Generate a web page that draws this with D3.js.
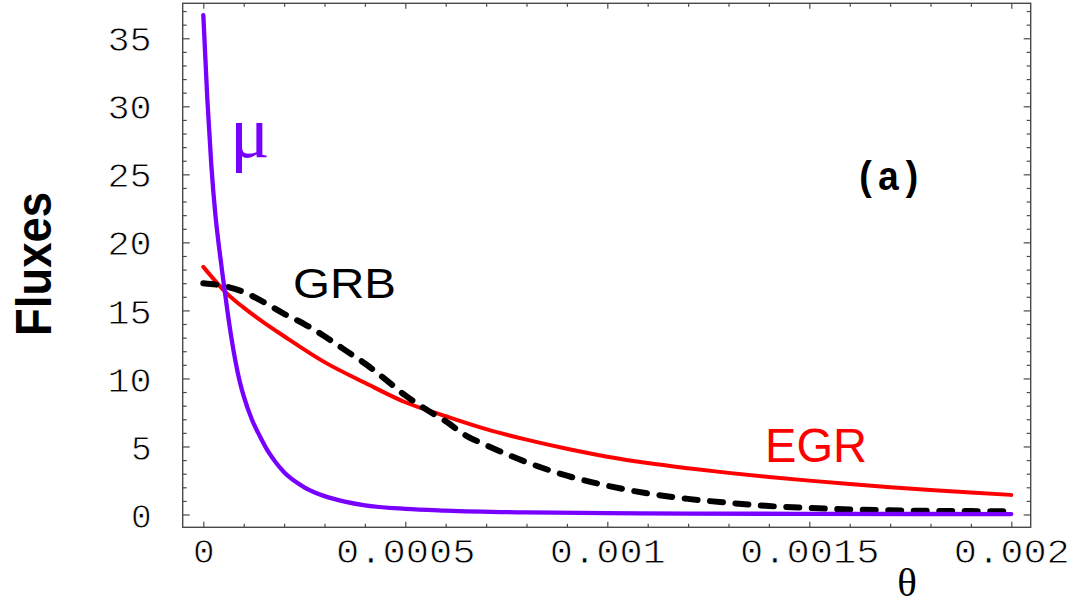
<!DOCTYPE html>
<html>
<head>
<meta charset="utf-8">
<script src="https://d3js.org/d3.v7.min.js"></script>
<style>
  html, body { margin: 0; padding: 0; background: #fff; }
  svg { display: block; }
</style>
</head>
<body>
<svg id="chart" width="1074" height="604"></svg>
<script>
// ---------------- data ----------------
const thetaMu = [0, 0.00001, 0.00002, 0.00003, 0.00004, 0.00005, 0.00006, 0.00007, 0.00008, 0.00009,
  0.0001, 0.00012, 0.00014, 0.00016, 0.00018, 0.0002, 0.00025, 0.0003, 0.00035, 0.0004, 0.0005,
  0.0006, 0.0008, 0.001, 0.0012, 0.0015, 0.002];
const muFlux = [36.7, 30.5, 25.6, 22.0, 19.4, 17.1, 14.9, 12.9, 11.2, 9.8,
  8.7, 7.0, 5.75, 4.65, 3.8, 3.1, 2.0, 1.35, 0.95, 0.68, 0.42,
  0.29, 0.15, 0.10, 0.07, 0.05, 0.03];

const thetaEGR = [0, 0.00006, 0.0001, 0.00015, 0.0002, 0.0003, 0.0004, 0.0005, 0.0006, 0.0007,
  0.0008, 0.0009, 0.001, 0.0011, 0.0012, 0.0013, 0.0014, 0.0015, 0.0016, 0.0017, 0.0018, 0.0019, 0.002];
const egrFlux = [18.2, 16.2, 15.2, 14.1, 13.1, 11.2, 9.68, 8.25, 7.22, 6.27,
  5.50, 4.83, 4.25, 3.78, 3.40, 3.06, 2.76, 2.49, 2.24, 2.01, 1.80, 1.61, 1.44];

const thetaGRB = [0, 0.00005, 0.0001, 0.00015, 0.0002, 0.00025, 0.0003, 0.00035, 0.0004, 0.00045,
  0.0005, 0.00055, 0.0006, 0.00065, 0.0007, 0.0008, 0.0009, 0.001, 0.0011, 0.0012, 0.0013,
  0.0014, 0.0015, 0.0016, 0.0017, 0.0018, 0.0019, 0.002];
const grbFlux = [17.0, 16.8, 16.35, 15.6, 14.75, 14.0, 13.1, 12.1, 11.1, 9.95,
  8.75, 7.75, 6.85, 5.8, 5.1, 3.85, 2.85, 2.12, 1.55, 1.15, 0.86,
  0.62, 0.48, 0.37, 0.31, 0.27, 0.25, 0.23];

const xTickValues = [0, 0.0005, 0.001, 0.0015, 0.002];
const xTickLabels = ["0", "0.0005", "0.001", "0.0015", "0.002"];
const yTickValues = [0, 5, 10, 15, 20, 25, 30, 35];
const yTickLabels = ["0", "5", "10", "15", "20", "25", "30", "35"];
const xMinorValues = d3.range(0, 21).filter(i => i % 5 !== 0).map(i => i * 0.0001);
const yMinorValues = d3.range(0, 38).filter(i => i % 5 !== 0);

const xDomain = [-0.000051, 0.002048];
const yDomain = [-0.94, 37.57];

// ---------------- layout ----------------
const frame = { left: 182.7, right: 1030.7, top: 3.3, bottom: 527.3 };
const svg = d3.select("#chart");

const x = d3.scaleLinear().domain(xDomain).range([frame.left, frame.right]);
const y = d3.scaleLinear().domain(yDomain).range([frame.bottom, frame.top]);

const tickColor = "#4a4a4a";
const monoFont = "'Liberation Mono', 'Courier New', monospace";
const charAdv = 23.6;

function styleAxis(g) {
  g.select(".domain").remove();
  g.selectAll(".tick line").attr("stroke", tickColor).attr("stroke-width", 1.2);
}

// minor ticks (all four sides)
svg.append("g").attr("transform", `translate(0,${frame.bottom})`)
  .call(d3.axisBottom(x).tickValues(xMinorValues).tickSize(-3.5).tickFormat(""))
  .call(styleAxis);
svg.append("g").attr("transform", `translate(0,${frame.top})`)
  .call(d3.axisTop(x).tickValues(xMinorValues).tickSize(-3.5).tickFormat(""))
  .call(styleAxis);
svg.append("g").attr("transform", `translate(${frame.left},0)`)
  .call(d3.axisLeft(y).tickValues(yMinorValues).tickSize(-4).tickFormat(""))
  .call(styleAxis);
svg.append("g").attr("transform", `translate(${frame.right},0)`)
  .call(d3.axisRight(y).tickValues(yMinorValues).tickSize(-4).tickFormat(""))
  .call(styleAxis);

// major ticks
const xAxisG = svg.append("g").attr("transform", `translate(0,${frame.bottom})`)
  .call(d3.axisBottom(x).tickValues(xTickValues).tickSize(-5.5)
    .tickFormat((d, i) => xTickLabels[i]))
  .call(styleAxis);
svg.append("g").attr("transform", `translate(0,${frame.top})`)
  .call(d3.axisTop(x).tickValues(xTickValues).tickSize(-5.5).tickFormat(""))
  .call(styleAxis);
const yAxisG = svg.append("g").attr("transform", `translate(${frame.left},0)`)
  .call(d3.axisLeft(y).tickValues(yTickValues).tickSize(-7)
    .tickFormat((d, i) => yTickLabels[i]))
  .call(styleAxis);
svg.append("g").attr("transform", `translate(${frame.right},0)`)
  .call(d3.axisRight(y).tickValues(yTickValues).tickSize(-7).tickFormat(""))
  .call(styleAxis);

function thinText(sel) {
  // thin white outline over the glyphs makes the strokes lighter, like the reference
  sel.attr("stroke", "#fff").attr("stroke-width", 0.8).attr("paint-order", "fill stroke");
}

xAxisG.selectAll(".tick text")
  .attr("y", 36).attr("dy", null)
  .attr("font-family", monoFont).attr("font-size", 35).attr("fill", "#000")
  .call(thinText)
  .each(function () {
    const t = d3.select(this);
    t.attr("textLength", t.text().length * charAdv - 2).attr("lengthAdjust", "spacingAndGlyphs");
  });
yAxisG.selectAll(".tick text")
  .attr("x", -31).attr("dy", "0.36em")
  .attr("font-family", monoFont).attr("font-size", 35).attr("fill", "#000")
  .call(thinText)
  .each(function () {
    const t = d3.select(this);
    t.attr("textLength", t.text().length * charAdv - 3).attr("lengthAdjust", "spacingAndGlyphs");
  });

// frame
svg.append("rect")
  .attr("x", x.range()[0]).attr("y", y.range()[1])
  .attr("width", x.range()[1] - x.range()[0]).attr("height", y.range()[0] - y.range()[1])
  .attr("fill", "none").attr("stroke", tickColor).attr("stroke-width", 1.4);

// ---------------- curves ----------------
const line = d3.line().x(d => x(d[0])).y(d => y(d[1])).curve(d3.curveMonotoneX);

svg.append("path")
  .datum(thetaEGR.map((t, i) => [t, egrFlux[i]]))
  .attr("d", line).attr("fill", "none")
  .attr("stroke", "#ff0000").attr("stroke-width", 4).attr("stroke-linecap", "round");

svg.append("path")
  .datum(thetaGRB.map((t, i) => [t, grbFlux[i]]))
  .attr("d", line).attr("fill", "none")
  .attr("stroke", "#000").attr("stroke-width", 6)
  .attr("stroke-linecap", "round").attr("stroke-dasharray", "13,12.5");

svg.append("path")
  .datum(thetaMu.map((t, i) => [t, muFlux[i]]))
  .attr("d", line).attr("fill", "none")
  .attr("stroke", "#7700ff").attr("stroke-width", 4.3).attr("stroke-linecap", "round");

// ---------------- labels ----------------
svg.append("text")
  .attr("transform", "translate(50.5,264) rotate(-90)")
  .attr("text-anchor", "middle")
  .attr("font-family", "'Liberation Sans', Arial, sans-serif")
  .attr("font-weight", "bold").attr("font-size", 50)
  .attr("textLength", 144).attr("lengthAdjust", "spacingAndGlyphs")
  .text("Fluxes");

svg.append("text")
  .attr("x", 907).attr("y", 596)
  .attr("text-anchor", "middle")
  .attr("font-family", "'Liberation Serif', 'Times New Roman', serif")
  .attr("font-size", 41)
  .text("θ");

svg.append("text")
  .attr("x", 230).attr("y", 157)
  .attr("font-family", "'Liberation Serif', 'Times New Roman', serif")
  .attr("font-size", 74).attr("fill", "#7700ff")
  .text("μ");

svg.append("text")
  .attr("x", 293).attr("y", 298)
  .attr("font-family", "'Liberation Sans', Arial, sans-serif")
  .attr("font-size", 43).attr("fill", "#000")
  .attr("textLength", 103).attr("lengthAdjust", "spacingAndGlyphs")
  .text("GRB");

svg.append("text")
  .attr("x", 765).attr("y", 461.5)
  .attr("font-family", "'Liberation Sans', Arial, sans-serif")
  .attr("font-size", 48).attr("fill", "#ff0000")
  .attr("textLength", 102).attr("lengthAdjust", "spacingAndGlyphs")
  .text("EGR");

svg.append("text")
  .attr("x", 888.7).attr("y", 190)
  .attr("text-anchor", "middle")
  .attr("font-family", monoFont)
  .attr("font-weight", "bold").attr("font-size", 40)
  .attr("textLength", 68).attr("lengthAdjust", "spacingAndGlyphs")
  .text("(a)");
</script>
</body>
</html>
